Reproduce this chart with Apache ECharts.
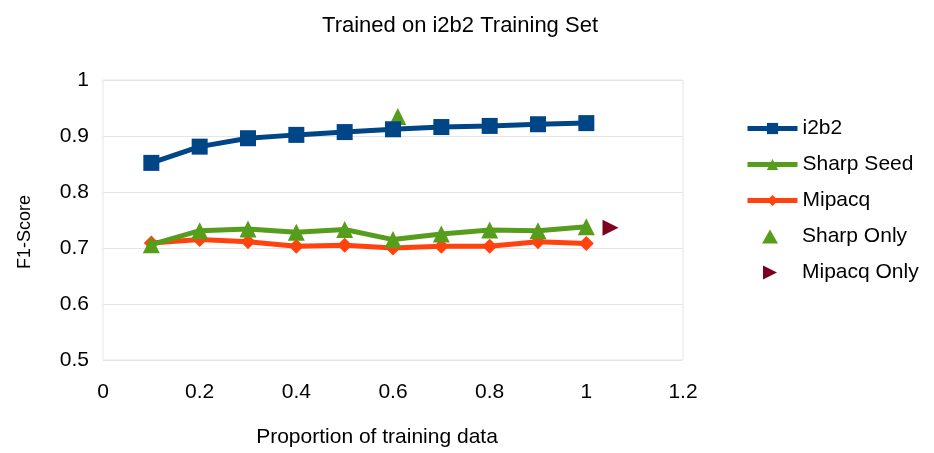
<!DOCTYPE html>
<html>
<head>
<meta charset="utf-8">
<script src="https://cdn.jsdelivr.net/npm/echarts@6/dist/echarts.min.js"></script>
<style>
  html, body { margin: 0; padding: 0; background: #fff; }
  #chart { width: 934px; height: 453px; }
</style>
</head>
<body>
<div id="chart"></div>
<script>
// data
const proportions = [0.1, 0.2, 0.3, 0.4, 0.5, 0.6, 0.7, 0.8, 0.9, 1.0]
const i2b2 = [0.852, 0.881, 0.896, 0.902, 0.907, 0.912, 0.916, 0.918, 0.921, 0.923]
const sharpSeed = [0.706, 0.731, 0.734, 0.728, 0.733, 0.715, 0.725, 0.732, 0.731, 0.738]
const mipacq = [0.709, 0.715, 0.711, 0.703, 0.705, 0.700, 0.703, 0.703, 0.711, 0.708]
const sharpOnly = [[0.61, 0.935]]
const mipacqOnly = [[1.05, 0.736]]

const font = 'Liberation Sans'

function pairs (ys) {
  return proportions.map((x, i) => [x, ys[i]])
}

let myChart = echarts.init(document.getElementById('chart'))
let option = {
  animation: false,
  textStyle: { fontFamily: font },
  title: {
    text: 'Trained on i2b2 Training Set',
    left: 455,
    textAlign: 'center',
    top: 10,
    textStyle: { fontFamily: font, fontSize: 22, fontWeight: 'normal', color: '#000' }
  },
  legend: [
    {
      orient: 'vertical',
      left: 740,
      top: 113,
      itemWidth: 50,
      itemHeight: 14,
      itemGap: 15,
      lineStyle: { width: 5 },
      textStyle: { fontFamily: font, fontSize: 21, color: '#000' },
      data: ['i2b2', 'Sharp Seed', 'Mipacq']
    },
    {
      orient: 'vertical',
      left: 757,
      top: 221,
      itemWidth: 16,
      itemHeight: 14,
      itemGap: 15,
      textStyle: { fontFamily: font, fontSize: 21, color: '#000', padding: [0, 0, 0, 19] },
      data: [
        'Sharp Only',
        { name: 'Mipacq Only', icon: 'path://M0,0 L14,7 L0,14 Z' }
      ]
    }
  ],
  grid: {
    left: 103,
    right: 251,
    top: 80,
    bottom: 92,
    show: true,
    borderColor: '#e6e6e6',
    borderWidth: 1
  },
  xAxis: {
    type: 'value',
    min: 0,
    max: 1.2,
    interval: 0.2,
    name: 'Proportion of training data',
    nameLocation: 'middle',
    nameGap: 67,
    nameTextStyle: { fontFamily: font, fontSize: 21, color: '#000', padding: [0, 32, 0, 0] },
    axisLine: { show: false },
    axisTick: { show: false },
    splitLine: { show: false },
    axisLabel: { fontSize: 21, color: '#000', margin: 22 }
  },
  yAxis: {
    type: 'value',
    min: 0.5,
    max: 1,
    interval: 0.1,
    name: 'F1-Score',
    nameLocation: 'middle',
    nameGap: 69,
    nameTextStyle: { fontFamily: font, fontSize: 18, color: '#000', padding: [0, 24, 0, 0] },
    axisLine: { show: false },
    axisTick: { show: false },
    splitLine: { lineStyle: { color: '#e6e6e6' } },
    axisLabel: { fontSize: 21, color: '#000', margin: 14 }
  },
  series: [
    {
      name: 'i2b2',
      type: 'line',
      data: pairs(i2b2),
      symbol: 'rect',
      symbolSize: 16,
      color: '#004586',
      lineStyle: { width: 5 }
    },
    {
      name: 'Sharp Seed',
      type: 'line',
      data: pairs(sharpSeed),
      symbol: 'triangle',
      symbolSize: 17,
      color: '#579d1c',
      lineStyle: { width: 5 }
    },
    {
      name: 'Mipacq',
      type: 'line',
      data: pairs(mipacq),
      symbol: 'diamond',
      symbolSize: 15,
      color: '#ff420e',
      lineStyle: { width: 5 },
      z: 1
    },
    {
      name: 'Sharp Only',
      type: 'scatter',
      data: sharpOnly,
      symbol: 'triangle',
      symbolSize: 17,
      color: '#579d1c',
      itemStyle: { opacity: 1 }
    },
    {
      name: 'Mipacq Only',
      type: 'scatter',
      data: mipacqOnly,
      symbol: 'triangle',
      symbolRotate: -90,
      symbolSize: 16,
      color: '#7e0021',
      itemStyle: { opacity: 1 }
    }
  ]
}
myChart.setOption(option)
</script>
</body>
</html>
